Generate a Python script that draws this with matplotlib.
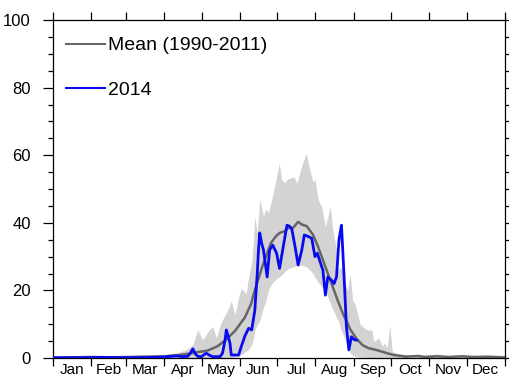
import numpy as np
import matplotlib
matplotlib.use("Agg")
import matplotlib.pyplot as plt

plt.rcParams['font.family'] = ['Liberation Sans', 'DejaVu Sans']

months = ['Jan', 'Feb', 'Mar', 'Apr', 'May', 'Jun', 'Jul', 'Aug', 'Sep', 'Oct', 'Nov', 'Dec']
month_starts = [0, 31, 59, 90, 120, 151, 181, 212, 243, 273, 304, 334, 365]

# Range band (1990-2011): day of year, lower, upper (% melt extent)
band_days = [0, 10, 20, 30, 40, 50, 60, 70, 80, 90, 100, 108, 113, 117, 121, 125, 129, 132,
             136, 141, 144, 147, 150, 152, 156, 158, 160.5, 162, 163, 165, 167, 170, 172,
             174, 176.6, 180.6, 182.8, 184.7, 187, 190, 194.6, 197, 201, 204.4, 207.6, 210,
             211.6, 214, 217, 220, 224, 226, 229, 230.5, 233, 236, 238, 240, 242, 244, 248,
             251, 254, 257.5, 259, 261, 263, 266, 268, 270, 272, 274, 280, 290, 300, 310,
             320, 330, 340, 350, 365]
band_hi = [0.5, 0.6, 0.4, 0.7, 0.5, 0.8, 0.5, 0.9, 0.7, 1.0, 1.5, 2.5, 4.0, 8.3, 5.3, 7.8, 9.3, 6.0,
           10.7, 14.0, 17.0, 12.7, 18.0, 20.6, 19.0, 24.0, 28.0, 35.0, 42.0, 37.0, 47.0, 42.0, 44.0,
           43.0, 46.7, 53.6, 57.6, 52.7, 52.0, 53.0, 53.6, 51.7, 57.0, 60.5, 55.6, 52.0,
           53.0, 47.0, 44.8, 38.8, 44.8, 37.9, 32.0, 26.0, 27.0, 22.0, 20.0, 25.0, 17.0, 16.0, 10.0,
           9.0, 8.3, 8.3, 5.0, 5.3, 6.0, 3.5, 4.4, 3.0, 9.8, 1.9, 1.2, 1.0, 0.8, 1.2,
           0.7, 1.0, 0.6, 0.7, 0.5]
band_lo = [0, 0, 0, 0, 0, 0, 0, 0, 0, 0, 0, 0, 0, 0, 0, 0, 0, 0,
           0, 0, 0, 0.3, 0.5, 1.0, 2.0, 2.4, 4.0, 6.0, 8.0, 10.0, 11.0, 15.0, 17.0,
           20.0, 22.0, 23.5, 24.0, 24.5, 25.5, 26.5, 27.0, 27.5, 27.5, 27.0, 26.0, 25.0,
           24.0, 22.5, 21.0, 20.0, 16.0, 14.5, 12.0, 11.0, 8.0, 5.3, 3.0, 1.5, 0.8, 0.5, 0.3,
           0.2, 0.1, 0, 0, 0, 0, 0, 0, 0, 0, 0, 0, 0, 0, 0,
           0, 0, 0, 0, 0]

# Mean (1990-2011)
mean_days = [0, 15, 30, 45, 60, 75, 90, 100, 110, 118, 125, 133, 140, 147, 155, 160, 163, 166,
             169, 173, 176, 180, 183, 187, 191, 194, 198, 201, 205, 208, 210, 214, 218, 222,
             226, 230, 234, 237, 240, 245, 250, 255, 261, 270, 275, 285, 295, 300, 310, 320,
             330, 340, 350, 365]
mean_vals = [0.1, 0.2, 0.3, 0.2, 0.3, 0.4, 0.5, 0.8, 1.3, 1.8, 2.2, 3.5, 5.5, 8.0, 12.0, 16.0, 20.0, 23.5,
             27.0, 31.0, 34.0, 36.0, 37.0, 37.5, 38.8, 38.5, 40.3, 39.5, 39.0, 37.5, 36.5, 33.0, 29.0, 25.0,
             21.0, 17.0, 13.3, 11.0, 8.5, 5.8, 3.8, 2.9, 2.4, 1.4, 0.9, 0.4, 0.6, 0.3, 0.5, 0.3,
             0.5, 0.3, 0.4, 0.2]

# 2014
y14_days = [0, 20, 40, 60, 80, 90, 95, 100, 105, 109, 111, 113, 115, 117, 120, 122, 124, 126,
            129, 135, 137, 139, 140, 141.5, 143, 144, 150, 152, 155, 158, 160.5, 163, 165, 166,
            167, 168.5, 170, 171.5, 173, 175, 177.5, 180.6, 183, 186, 189, 191, 193, 195.5, 198,
            201, 203, 206, 209, 211.6, 213.5, 215.7, 218, 220, 222, 225, 227, 229, 231, 233,
            235, 237, 239, 241, 243, 245]
y14_vals = [0.1, 0.1, 0.2, 0.1, 0.2, 0.3, 0.5, 0.6, 0.4, 0.5, 1.5, 2.7, 1.2, 0.5, 0.4, 1.0, 1.4, 0.9,
            0.4, 0.4, 1.5, 5.3, 8.3, 6.5, 4.3, 0.9, 0.9, 3.3, 6.5, 8.8, 8.3, 14.0, 25.0, 32.0,
            37.0, 34.0, 32.0, 28.0, 24.0, 32.0, 33.4, 31.0, 26.5, 33.0, 39.3, 39.0, 38.0, 33.0, 27.5,
            32.0, 36.4, 36.0, 35.4, 30.0, 31.0, 28.5, 26.0, 18.6, 24.0, 23.0, 22.0, 24.0, 35.0, 39.3,
            25.0, 9.3, 2.4, 6.3, 5.5, 5.3]

fig = plt.figure(figsize=(5.09, 3.88), dpi=100)
ax = fig.add_axes([0.104, 0.0773, 0.888, 0.871])

ax.fill_between(band_days, band_lo, band_hi, color='#d3d3d3', linewidth=0, zorder=1)
ax.plot(mean_days, mean_vals, color='#666666', lw=1.8, zorder=2, label='Mean (1990-2011)')
ax.plot(y14_days, y14_vals, color='#0a0af0', lw=2.0, zorder=3, label='2014')

ax.set_xlim(0, 365)
ax.set_ylim(0, 100)

ax.set_xticks(month_starts)
ax.set_xticklabels([])
centers = [(month_starts[i] + month_starts[i + 1]) / 2 for i in range(12)]
ax.set_xticks(centers, minor=True)
ax.set_xticklabels(months, minor=True, fontsize=11)
ax.tick_params(axis='x', which='major', direction='out', length=6, width=0.9,
               top=True, bottom=True)
ax.tick_params(axis='x', which='minor', length=0, pad=3.5, top=False)

ax.set_yticks([0, 20, 40, 60, 80, 100])
ax.set_yticks(np.arange(0, 101, 5), minor=True)
ax.tick_params(axis='y', which='major', direction='out', length=7, width=0.9,
               left=True, right=True, labelsize=12, pad=9)
ax.tick_params(axis='y', which='minor', direction='out', length=3.5, width=0.9,
               left=True, right=True)

for s in ax.spines.values():
    s.set_linewidth(0.9)

leg = ax.legend(loc='upper left', frameon=False, fontsize=14, handlelength=2.0,
                handletextpad=0.15, labelspacing=1.38, borderaxespad=0.2,
                bbox_to_anchor=(0.003, 0.985))
for line in leg.get_lines():
    line.set_linewidth(1.5)

fig.savefig('out.png', dpi=100)
